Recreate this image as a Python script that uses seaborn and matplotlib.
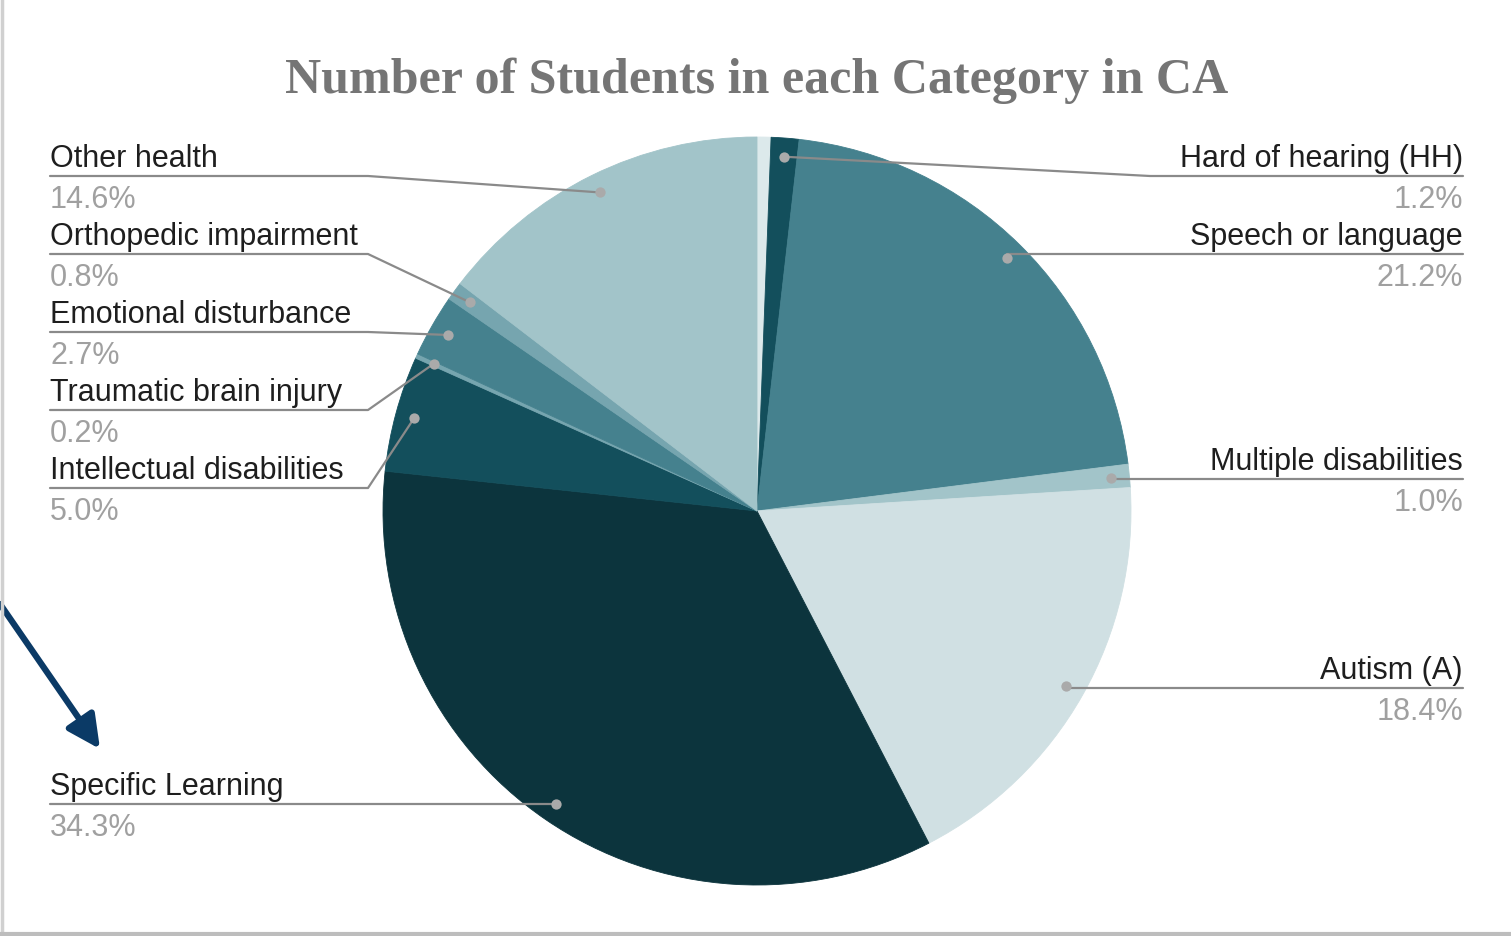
import numpy as np
import matplotlib
matplotlib.use("Agg")
import matplotlib.pyplot as plt
import seaborn as sns

# ---------------- data ----------------
categories = ["Visual impairment", "Hard of hearing (HH)", "Speech or language",
              "Multiple disabilities", "Autism (A)", "Specific Learning",
              "Intellectual disabilities", "Traumatic brain injury",
              "Emotional disturbance", "Orthopedic impairment", "Other health"]
percents = [0.6, 1.2, 21.2, 1.0, 18.4, 34.3, 5.0, 0.2, 2.7, 0.8, 14.6]
pct_labels = ["", "1.2%", "21.2%", "1.0%", "18.4%", "34.3%", "5.0%", "0.2%",
              "2.7%", "0.8%", "14.6%"]
show_label = [False, True, True, True, True, True, True, True, True, True, True]

colors = ["#dce9eb", "#134f5c", "#45818e", "#a2c4c9", "#d0e0e3", "#0c343d",
          "#134f5c", "#76a5af", "#45818e", "#76a5af", "#a2c4c9"]

# ---------------- layout (pixel units, measured from top) ----------------
W, H = 1511, 937
CX, CY, R = 757, 512, 374
# label side, horizontal line y, elbow x (None = straight)
label_layout = {
    "Hard of hearing (HH)":      ("right", 177, 1150),
    "Speech or language":        ("right", 255, None),
    "Multiple disabilities":     ("right", 480, None),
    "Autism (A)":                ("right", 689, None),
    "Specific Learning":         ("left", 805, None),
    "Intellectual disabilities": ("left", 489, 368),
    "Traumatic brain injury":    ("left", 411, 368),
    "Emotional disturbance":     ("left", 333, 368),
    "Orthopedic impairment":     ("left", 255, 368),
    "Other health":              ("left", 177, 368),
}
LEFT_X, RIGHT_X = 50, 1463

sns.set_theme(style="white")
plt.rcParams["font.family"] = ["Liberation Sans", "DejaVu Sans"]

fig = plt.figure(figsize=(W / 100, H / 100), dpi=100)
fig.patch.set_facecolor("white")
ax = fig.add_axes([0, 0, 1, 1])

def Y(ypx):
    return H - ypx

pal = sns.color_palette(colors)
wedges, _ = ax.pie(percents, colors=pal, startangle=90, counterclock=False,
                   center=(CX, Y(CY)), radius=R,
                   wedgeprops=dict(linewidth=0.6))
for w, c in zip(wedges, pal):
    w.set_edgecolor(c)

ax.set_xlim(0, W)
ax.set_ylim(0, H)
ax.set_aspect("equal")
ax.axis("off")

line_col = "#8a8a8a"
dot_col = "#aaaaaa"
for w, name, pl, show in zip(wedges, categories, pct_labels, show_label):
    if not show:
        continue
    mid = np.deg2rad((w.theta1 + w.theta2) / 2)
    dx = CX + 0.95 * R * np.cos(mid)
    dy = Y(CY) + 0.95 * R * np.sin(mid)
    side, ly, elbow = label_layout[name]
    endx = LEFT_X if side == "left" else RIGHT_X
    if elbow is None:
        xs = [dx, endx]
        ys = [Y(ly), Y(ly)]
    else:
        xs = [dx, elbow, endx]
        ys = [dy, Y(ly), Y(ly)]
    ax.plot(xs, ys, color=line_col, lw=1.6, solid_capstyle="round", zorder=3)
    ax.scatter([dx], [dy], s=55, color=dot_col, zorder=4, linewidths=0)
    ha = "left" if side == "left" else "right"
    ax.text(endx, Y(ly - 10), name, ha=ha, va="baseline", fontsize=22,
            color="#1e1e1e")
    ax.text(endx, Y(ly + 31), pl, ha=ha, va="baseline", fontsize=22,
            color="#a0a0a0")

# title
ax.text(757, Y(93), "Number of Students in each Category in CA", ha="center",
        va="baseline", fontsize=36, fontweight="bold", color="#757575",
        family=["Liberation Serif", "DejaVu Serif"])

# annotation arrow
ax.annotate("", xy=(100, Y(750)), xytext=(0, Y(605)),
            arrowprops=dict(arrowstyle="-|>", color="#0b3a66", lw=4.5,
                            mutation_scale=50, shrinkA=0, shrinkB=0),
            zorder=5)

# frame shadow edges
ax.plot([1.5, 1.5], [Y(0), Y(934)], color="#d0d0d0", lw=2.5, zorder=6)
ax.plot([0, W], [Y(935), Y(935)], color="#bdbdbd", lw=3, zorder=6)

fig.savefig("out.png", dpi=100, facecolor="white")
